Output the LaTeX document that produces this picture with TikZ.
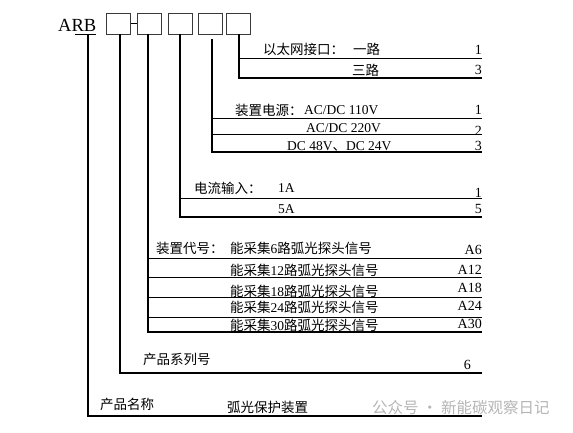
\documentclass[tikz,border=0pt]{standalone}
\usepackage{fontspec}
\setmainfont{Liberation Serif}
\newfontfamily\cjk{Noto Sans CJK SC}
\usepackage{xcolor}
\usepackage{tikz}
\usetikzlibrary{calc}
\definecolor{ink}{HTML}{000000}
\definecolor{frame}{HTML}{3A3A3A}
\definecolor{mark}{HTML}{B5B5B5}
\newcommand{\zh}[1]{{\cjk #1}}
\tikzset{
  cell/.style={draw=frame, line width=0.9pt, minimum width=24pt, minimum height=21pt, inner sep=0pt},
  lead/.style={draw=ink, line width=2.4pt, line join=miter},
  rule/.style={draw=ink, line width=0.9pt},
  txt/.style={text=ink, inner sep=0pt, anchor=west, font=\fontsize{13.5}{15}\selectfont},
  num/.style={text=ink, inner sep=0pt, anchor=east, font=\fontsize{14}{16}\selectfont},
  wm/.style={text=mark, inner sep=0pt, anchor=west, font=\fontsize{15.5}{17}\selectfont\cjk},
}
\begin{document}
\begin{tikzpicture}[x=1pt, y=-1pt]
  \useasboundingbox (0,0) rectangle (573,433);
  % code head and boxes
  \node[inner sep=0pt, anchor=base west, font=\fontsize{18.5}{20}\selectfont] (arb) at (58,32) {ARB};
  \node[cell] (b1) at (118.5,23.5) {};
  \node[cell] (b2) at (149,23.5) {};
  \node[cell] (b3) at (180,23.5) {};
  \node[cell] (b4) at (210.5,23.5) {};
  \node[cell] (b5) at (238.5,23.5) {};
  \draw[rule] (b1.east) -- (b2.west);
  \draw[rule] (75,34) -- (96,34);
  % ends of the leads
  \coordinate (e0) at (482,416);
  \coordinate (e1) at (482,373);
  \coordinate (e2) at (482,332);
  \coordinate (e3) at (482,217);
  \coordinate (e4) at (482,152);
  \coordinate (e5) at (482,78);
  \draw[lead] (88,34) |- (e0);
  \draw[lead] (120,34) |- (e1);
  \draw[lead] (148,34) |- (e2);
  \draw[lead] (180,34) |- (e3);
  \draw[lead] (212,39) |- (e4);
  \draw[lead] (239,34) |- (e5);
  % thin separators
  \draw[rule] (239,58) -- (482,58);
  \foreach \y in {118,134} \draw[rule] (212,\y) -- (482,\y);
  \draw[rule] (180,198) -- (482,198);
  \foreach \y in {258,277,297,317} \draw[rule] (148,\y) -- (482,\y);
  % ethernet
  \node[txt] (eth) at (263,49) {\zh{以太网接口：}};
  \node[txt] (eth1) at (353,49) {\zh{一路}};
  \node[num] (n51) at (482,50) {1};
  \node[txt] (eth3) at (352,70) {\zh{三路}};
  \node[num] (n53) at (482,70) {3};
  % power supply
  \node[txt] (pwr) at (235,110) {\zh{装置电源：}};
  \node[txt] (pwr1) at (304,110) {AC/DC 110V};
  \node[num] (n41) at (482,110) {1};
  \node[txt] (pwr2) at (306,128) {AC/DC 220V};
  \node[num] (n42) at (482,131) {2};
  \node[txt] (pwr3) at (287,146) {DC 48V\zh{、}DC 24V};
  \node[num] (n43) at (482,146) {3};
  % current input
  \node[txt] (cur) at (194,188) {\zh{电流输入：}};
  \node[txt] (cur1) at (278,188) {1A};
  \node[num] (n31) at (482,193) {1};
  \node[txt] (cur5) at (278,209) {5A};
  \node[num] (n35) at (482,209) {5};
  % device code
  \node[txt] (dev) at (156,248) {\zh{装置代号：}};
  \node[txt] (dev6) at (230,248) {\zh{能采集}6\zh{路弧光探头信号}};
  \node[num] (a6) at (482,250) {A6};
  \node[txt] (dev12) at (230,270) {\zh{能采集}12\zh{路弧光探头信号}};
  \node[num] (a12) at (482,270) {A12};
  \node[txt] (dev18) at (230,291) {\zh{能采集}18\zh{路弧光探头信号}};
  \node[num] (a18) at (482,288) {A18};
  \node[txt] (dev24) at (230,307) {\zh{能采集}24\zh{路弧光探头信号}};
  \node[num] (a24) at (482,306) {A24};
  \node[txt] (dev30) at (230,325) {\zh{能采集}30\zh{路弧光探头信号}};
  \node[num] (a30) at (482,324) {A30};
  % series and name
  \node[txt] (ser) at (143,359) {\zh{产品系列号}};
  \node[num] (n6) at (471,365) {6};
  \node[txt] (name) at (100,404) {\zh{产品名称}};
  \node[txt] (prod) at (227,407) {\zh{弧光保护装置}};
  \node[wm] (wmark) at (372,408) {公众号 · 新能碳观察日记};
\end{tikzpicture}
\end{document}
